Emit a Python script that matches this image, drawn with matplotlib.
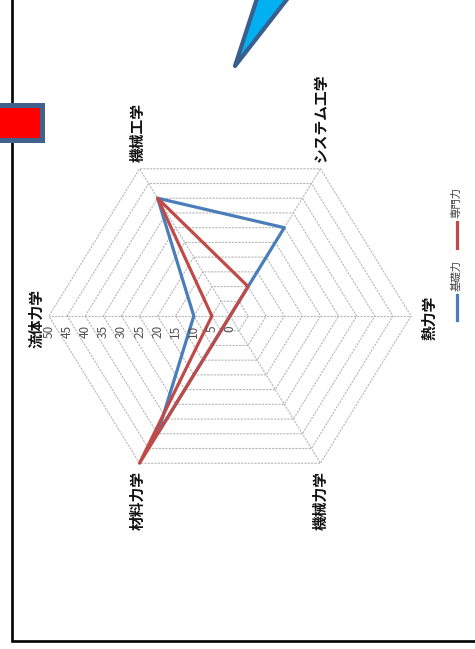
import numpy as np
import matplotlib
matplotlib.use("Agg")
import matplotlib.pyplot as plt
from matplotlib.patches import Polygon, Rectangle
from matplotlib.lines import Line2D

plt.rcParams['font.family'] = ['Noto Sans CJK JP', 'DejaVu Sans']
plt.rcParams['path.simplify'] = False

# ---- data -------------------------------------------------------------
categories = ['流体力学', '機械工学', 'システム工学', '熱力学', '機械力学', '材料力学']
basic = [10, 40, 30, 0, 0, 40]        # 基礎力
special = [5, 40, 10, 0, 0, 50]       # 専門力
series_names = ['基礎力', '専門力']
r_ticks = [0, 5, 10, 15, 20, 25, 30, 35, 40, 45, 50]

BLUE = '#4A7EBB'
RED = '#BE4B48'
GRID = '#B8B8B8'
TXT = '#111111'

W, H = 475, 649
fig = plt.figure(figsize=(W / 100, H / 100), dpi=100)
fig.patch.set_facecolor('white')

# ---- radar axes (chart turned a quarter turn, labels read upward) ----
cx, cy = 230, 316          # centre of the web, pixels from top-left
sx, sy = 3.62, 3.40        # pixels per value unit
lim = 62
ax = fig.add_axes([(cx - lim * sx) / W, (H - cy - lim * sy) / H,
                   2 * lim * sx / W, 2 * lim * sy / H])
ax.set_xlim(-lim, lim)
ax.set_ylim(-lim, lim)
ax.axis('off')

n = len(categories)
theta = np.deg2rad(180 - 60 * np.arange(n))   # clockwise from the left
cos_t, sin_t = np.cos(theta), np.sin(theta)
rmax = r_ticks[-1]

# hexagonal rings
for r in r_ticks[1:]:
    ax.add_patch(Polygon(np.column_stack([r * cos_t, r * sin_t]), closed=True,
                         fill=False, edgecolor=GRID, lw=0.8, ls=(0, (2, 1)), zorder=1))
# spokes
for c, s in zip(cos_t, sin_t):
    ax.plot([0, rmax * c], [0, rmax * s], color=GRID, lw=0.8, ls=(0, (2, 1)), zorder=1)

# series as closed outlines
for vals, col in ((basic, BLUE), (special, RED)):
    v = np.asarray(vals, float)
    ax.add_patch(Polygon(np.column_stack([v * cos_t, v * sin_t]), closed=True,
                         fill=False, edgecolor=col, lw=2.3, joinstyle='round',
                         zorder=3))

# value axis labels along the first spoke
for r in r_ticks:
    ax.annotate(str(r), (r * cos_t[0], r * sin_t[0]), xytext=(0, -9),
                textcoords='offset pixels', rotation=90, ha='center', va='top',
                fontsize=8.5, color='#505050', annotation_clip=False)

# category labels
pad = 8
for i, lab in enumerate(categories):
    px, py = rmax * cos_t[i], rmax * sin_t[i]
    if abs(sin_t[i]) < 1e-6:
        if cos_t[i] < 0:
            off, ha, va = (-pad + 3, -2), 'right', 'center'
        else:
            off, ha, va = (pad + 2, -2), 'left', 'center'
    elif sin_t[i] > 0:
        off, ha, va = (-2 if cos_t[i] < 0 else 0, pad - 1), 'center', 'bottom'
    else:
        off, ha, va = (-2 if cos_t[i] < 0 else 0, -pad), 'center', 'top'
    ax.annotate(lab, (px, py), xytext=off, textcoords='offset pixels',
                rotation=90, ha=ha, va=va, fontsize=10.6, color=TXT,
                fontweight='bold', annotation_clip=False)

# ---- overlay in pixel coordinates: frame, shapes and legend ----------
ov = fig.add_axes([0, 0, 1, 1], facecolor='none')
ov.set_xlim(0, W)
ov.set_ylim(H, 0)
ov.axis('off')

# outer frame
ov.add_line(Line2D([11.5, 11.5, W + 5], [-5, 640.5, 640.5], color='black', lw=1.9,
                   solid_joinstyle='miter', zorder=2))

# red box with slate border
ov.add_patch(Rectangle((-10, 104.5), 51.5, 35.5, facecolor='#FF0000',
                       edgecolor='#41628C', lw=3.6, zorder=4))

# pointed callout
ov.add_patch(Polygon([(235, 66), (263, -20), (302, -20)], closed=True,
                     facecolor='#00B0F0', edgecolor='#3A5F8F', lw=3.0,
                     joinstyle='round', zorder=4))

# legend (vertical)
legend_items = [(series_names[0], BLUE, 320, 295), (series_names[1], RED, 248, 222)]
for name, col, y0, y1 in legend_items:
    ov.add_line(Line2D([457, 457], [y0, y1], color=col, lw=2.3, zorder=3))
    ov.text(456, y1 - 4, name, rotation=90, ha='center', va='bottom',
            fontsize=7.5, color='#404040', zorder=3)

fig.savefig('out.png', dpi=100, facecolor='white')
